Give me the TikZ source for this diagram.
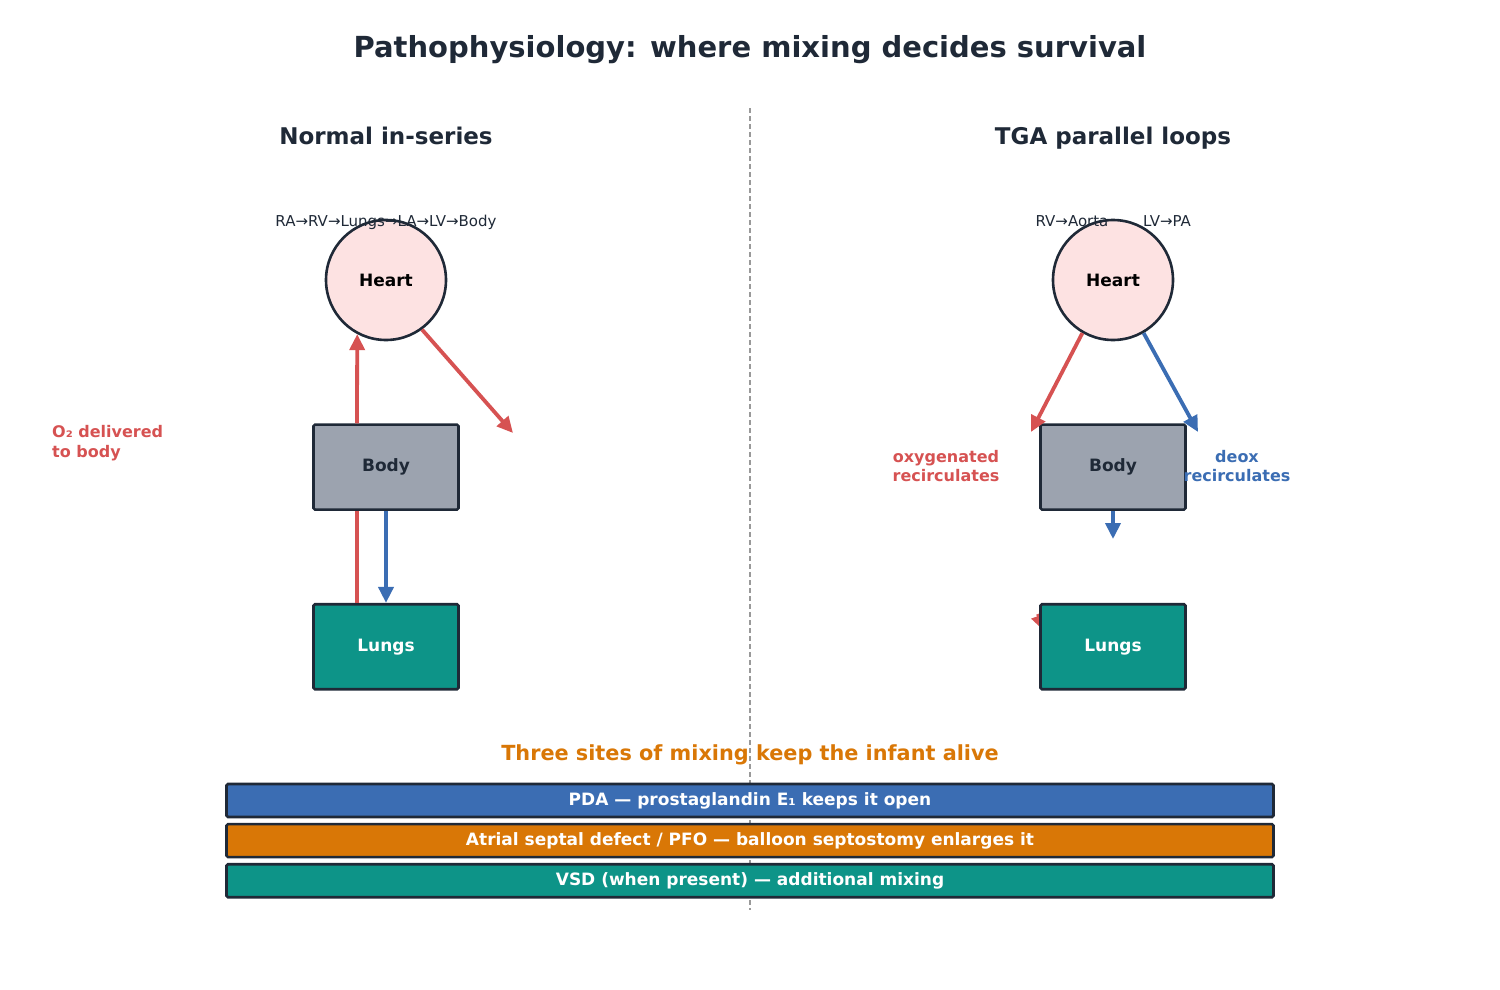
\documentclass[tikz,border=0pt]{standalone}
\usepackage{fontspec}
\setmainfont{DejaVu Sans}
\usetikzlibrary{arrows.meta,positioning}

\definecolor{ink}{HTML}{1F2937}
\definecolor{oxred}{HTML}{D65252}
\definecolor{deoxblue}{HTML}{3B6DB3}
\definecolor{mixorange}{HTML}{D97706}
\definecolor{lungteal}{HTML}{0D9488}
\definecolor{bodygray}{HTML}{9CA3AF}
\definecolor{heartpink}{HTML}{FDE2E2}

\tikzset{
  heart/.style={circle,draw=ink,line width=2.6pt,fill=heartpink,minimum size=120pt,
    inner sep=0pt,font=\fontsize{17}{20}\selectfont\bfseries},
  organ/.style={rectangle,rounded corners=1.5pt,draw=ink,line width=2.6pt,
    minimum width=145pt,minimum height=85pt,inner sep=0pt,
    font=\fontsize{17}{20}\selectfont\bfseries},
  flow/.style={line width=3.8pt,-{Triangle[length=16pt,width=15pt]}},
  route/.style={font=\fontsize{15}{18}\selectfont,text=ink,anchor=base},
  panel/.style={font=\fontsize{23}{27}\selectfont\bfseries,text=ink,anchor=base},
  note/.style={font=\fontsize{16}{19.5}\selectfont\bfseries,inner sep=0pt},
  sitebar/.style={rectangle,rounded corners=1.5pt,draw=ink,line width=2.6pt,
    minimum width=1047pt,minimum height=33pt,inner sep=0pt,text=white,
    font=\fontsize{17}{20}\selectfont\bfseries}
}

\begin{document}
\begin{tikzpicture}[x=1pt,y=-1pt]
\useasboundingbox (0,0) rectangle (1500,990);

\node[font=\fontsize{29}{34}\selectfont\bfseries,text=ink,anchor=base] (title) at (750,58)
  {Pathophysiology: where mixing decides survival};

% left panel: normal circulation
\node[panel] (normT) at (386,144) {Normal in-series};
\node[heart] (heartL) at (386,280) {Heart};
\node[route] (routeL) at (386,226) {RA→RV→Lungs→LA→LV→Body};
\node[organ,fill=bodygray,text=ink,below=82pt of heartL] (bodyL) {Body};
\node[organ,fill=lungteal,text=white,below=92pt of bodyL] (lungsL) {Lungs};
\coordinate (outL) at (513,433);
\draw[flow,oxred] ([xshift=-29pt]bodyL.north) -- (heartL.242);
\draw[flow,oxred] (heartL.306) -- (outL);
\draw[oxred,line width=3.8pt] ([xshift=-29pt]lungsL.north) -- ([xshift=-29pt]bodyL.south);
\draw[flow,deoxblue] (bodyL.south) -- (lungsL.north);
\node[note,text=oxred,align=left,anchor=west] (o2L) at (52,443) {O₂ delivered\\to body};

% right panel: TGA
\node[panel] (tgaT) at (1113,144) {TGA parallel loops};
\node[heart] (heartR) at (1113,280) {Heart};
\node[route] (routeR1) at (1072,226) {RV→Aorta};
\node[route] (routeR2) at (1167,226) {LV→PA};
\node[organ,fill=bodygray,text=ink,below=82pt of heartR] (bodyR) {Body};
\coordinate (mixR) at (1044,631);
\draw[flow,oxred] ([shift={(-6,-17)}]mixR) -- (mixR);
\node[organ,fill=lungteal,text=white,below=92pt of bodyR] (lungsR) {Lungs};
\coordinate (oxR) at (1031,432);
\coordinate (deoxR) at (1198,432);
\coordinate (downR) at (1113,539);
\draw[flow,oxred] (heartR.240) -- (oxR);
\draw[flow,deoxblue] (heartR.300) -- (deoxR);
\draw[flow,deoxblue] (bodyR.south) -- (downR);
\node[note,text=oxred,align=center] (oxlab) at (946,466) {oxygenated\\recirculates};
\node[note,text=deoxblue,align=center] (deoxlab) at (1237,466) {deox\\recirculates};

% mixing sites
\node[font=\fontsize{20.8}{24}\selectfont\bfseries,text=mixorange,anchor=base] (sites) at (750,760)
  {Three sites of mixing keep the infant alive};
\draw[gray!80,line width=1.2pt,dash pattern=on 5pt off 3pt] (750,108) -- (750,910);
\node[sitebar,fill=deoxblue] (pda) at (750,800.5) {PDA — prostaglandin E₁ keeps it open};
\node[sitebar,fill=mixorange,below=4.5pt of pda] (asd) {Atrial septal defect / PFO — balloon septostomy enlarges it};
\node[sitebar,fill=lungteal,below=4.5pt of asd] (vsd) {VSD (when present) — additional mixing};
\end{tikzpicture}
\end{document}
